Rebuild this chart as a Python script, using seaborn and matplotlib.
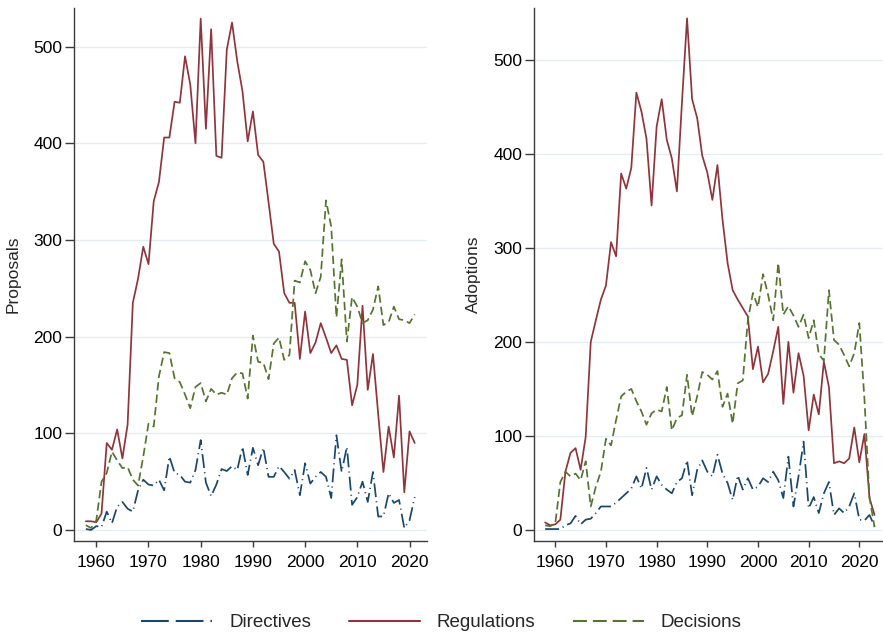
import pandas as pd
import seaborn as sns
import matplotlib.pyplot as plt

# values
years_prop = list(range(1958, 2022))
years_adop = list(range(1958, 2024))

directives_prop = [1, 0, 4, 3, 19, 7, 24, 29, 22, 19, 41, 52, 47, 46, 52, 41, 76, 59, 57, 50,
                   49, 62, 93, 49, 35, 47, 63, 61, 66, 62, 86, 57, 85, 67, 85, 55, 55, 66, 60, 53,
                   62, 36, 69, 48, 55, 60, 55, 33, 98, 60, 86, 26, 34, 50, 29, 60, 14, 14, 38, 28,
                   31, 2, 10, 34]
regulations_prop = [9, 9, 8, 17, 90, 83, 104, 74, 109, 235, 260, 293, 275, 340, 360, 406, 406, 443, 442, 490,
                    461, 400, 529, 415, 518, 387, 385, 497, 525, 485, 454, 402, 433, 388, 381, 339, 296, 288, 245, 235,
                    235, 177, 226, 183, 194, 214, 199, 183, 191, 177, 176, 129, 150, 232, 145, 182, 120, 60, 107, 75,
                    139, 39, 102, 90]
decisions_prop = [5, 2, 10, 50, 59, 81, 72, 64, 65, 52, 46, 76, 110, 107, 159, 184, 183, 157, 153, 140,
                  126, 148, 152, 133, 146, 140, 142, 140, 157, 163, 162, 136, 201, 174, 173, 156, 193, 199, 176, 181,
                  258, 256, 278, 269, 245, 262, 341, 314, 220, 280, 195, 241, 231, 214, 217, 228, 252, 212, 215, 231,
                  218, 217, 214, 223]

directives_adop = [1, 1, 1, 1, 5, 7, 15, 6, 11, 12, 18, 25, 25, 25, 29, 34, 39, 44, 57, 44,
                   66, 43, 57, 48, 43, 39, 51, 55, 74, 37, 64, 74, 62, 57, 80, 60, 50, 32, 58, 43,
                   55, 43, 46, 55, 51, 62, 53, 34, 78, 25, 57, 94, 23, 35, 18, 39, 51, 16, 23, 18,
                   25, 39, 11, 10, 16, 4]
regulations_adop = [8, 5, 6, 11, 62, 82, 87, 64, 99, 200, 223, 245, 260, 306, 291, 379, 363, 385, 465, 445,
                    416, 345, 429, 458, 415, 395, 360, 455, 544, 458, 438, 398, 380, 351, 388, 330, 284, 255, 245, 236,
                    227, 171, 195, 157, 166, 190, 216, 134, 200, 146, 188, 164, 106, 144, 123, 179, 152, 71, 73, 71,
                    76, 109, 72, 102, 34, 16]
decisions_adop = [5, 4, 7, 51, 62, 57, 60, 53, 73, 25, 46, 62, 97, 90, 117, 142, 147, 150, 137, 126,
                  112, 124, 128, 126, 152, 106, 119, 122, 165, 121, 142, 168, 165, 160, 169, 131, 145, 113, 156, 159,
                  223, 252, 237, 272, 250, 223, 284, 229, 238, 228, 216, 229, 204, 223, 187, 180, 255, 202, 197, 186,
                  174, 188, 220, 140, 35, 3]

types = ["Directives", "Regulations", "Decisions"]
palette = {"Directives": "#1a476f", "Regulations": "#90353b", "Decisions": "#55752f"}
dashes = {"Directives": (10, 3, 0.8, 3), "Regulations": "", "Decisions": (6, 3)}
legend_dashes = {"Directives": (20, 5, 20, 5, 1.5, 5), "Regulations": None, "Decisions": (10, 4.3)}


def long_frame(years, series):
    rows = []
    for name, vals in zip(types, series):
        for y, v in zip(years, vals):
            rows.append(dict(Year=y, Count=v, Type=name))
    return pd.DataFrame(rows)


def panel(ax, data, ylabel, ylim, xlim):
    sns.lineplot(data=data, x="Year", y="Count", hue="Type", style="Type",
                 hue_order=types, style_order=types, palette=palette, dashes=dashes,
                 linewidth=1.25, legend=False, ax=ax)
    ax.set_xlim(*xlim)
    ax.set_ylim(*ylim)
    ax.set_xticks(range(1960, 2021, 10))
    ax.set_yticks(range(0, 501, 100))
    ax.set_xlabel("")
    ax.set_ylabel(ylabel, fontsize=12.5, labelpad=9)
    ax.yaxis.grid(True, color="#e4edf1", linewidth=1.0)
    ax.xaxis.grid(False)
    ax.set_axisbelow(True)
    for side in ["top", "right"]:
        ax.spines[side].set_visible(False)
    for side in ["left", "bottom"]:
        ax.spines[side].set_color("#3c3c3c")
        ax.spines[side].set_linewidth(1.0)
    ax.tick_params(axis="y", direction="out", length=6.5, width=1.0, pad=2,
                   color="#3c3c3c", labelsize=12.5, labelcolor="black", left=True)
    ax.tick_params(axis="x", direction="out", length=4, width=1.0, pad=6,
                   color="#3c3c3c", labelsize=12.5, labelcolor="black", bottom=True)


sns.set_theme(style="white")
plt.rcParams["font.family"] = ["Liberation Sans", "DejaVu Sans"]
plt.rcParams["lines.scale_dashes"] = False

fig = plt.figure(figsize=(8.83, 6.35), dpi=100)
ax1 = fig.add_axes([74 / 883, 1 - 541 / 635, 353 / 883, 533 / 635])
ax2 = fig.add_axes([534 / 883, 1 - 541 / 635, 349 / 883, 533 / 635])

prop = long_frame(years_prop, [directives_prop, regulations_prop, decisions_prop])
adop = long_frame(years_adop, [directives_adop, regulations_adop, decisions_adop])

panel(ax1, prop, "Proposals", (-11.4, 540), (1955.73, 2023.35))
panel(ax2, adop, "Adoptions", (-11.7, 555), (1955.8, 2024.67))

handles = ax1.get_lines()[:3]
leg = fig.legend(handles, types, loc="center", bbox_to_anchor=(0.5, 0.019), ncol=3,
                 frameon=False, fontsize=13.5, handlelength=3.8, handletextpad=0.9,
                 columnspacing=2.0)
for line, name in zip(leg.get_lines(), types):
    line.set_linewidth(1.5)
    if legend_dashes[name] is not None:
        line.set_dashes(legend_dashes[name])

fig.savefig("out.png", dpi=100)
